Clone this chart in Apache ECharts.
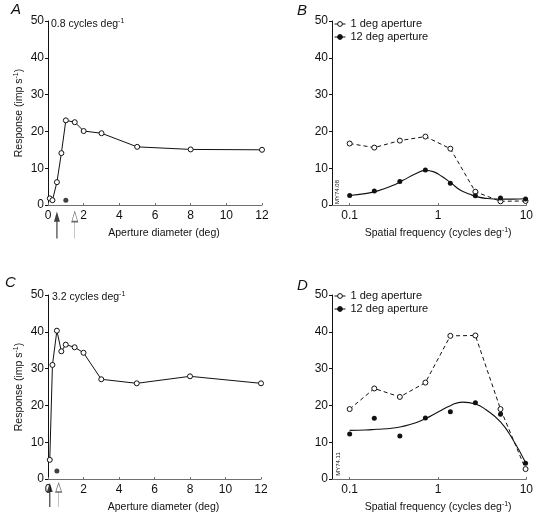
<!DOCTYPE html>
<html><head><meta charset="utf-8">
<script src="https://cdn.jsdelivr.net/npm/echarts@6/dist/echarts.min.js"></script>
<style>html,body{margin:0;padding:0;background:#fff}#c{width:536px;height:518px}</style>
</head><body><div id="c"></div>
<script>
// ---------- data ----------
// Panel A : 0.8 cycles/deg, response vs aperture diameter
const apertureA = [0.1, 0.25, 0.5, 0.75, 1, 1.5, 2, 3, 5, 8, 12];
const responseA = [1.8, 1.3, 6.2, 14.1, 23.0, 22.5, 20.1, 19.5, 15.8, 15.1, 15.0];
const spontA = [[1, 1.3]];
const arrowFilledA = [0.5];
const arrowOpenA = [1.5];
// Panel C : 3.2 cycles/deg
const apertureC = [0.1, 0.25, 0.5, 0.75, 1, 1.5, 2, 3, 5, 8, 12];
const responseC = [5.2, 31.0, 40.3, 34.7, 36.5, 35.8, 34.3, 27.1, 26.0, 27.9, 26.0];
const spontC = [[0.5, 2.2]];
const arrowFilledC = [0.1];
const arrowOpenC = [0.6];
// Panel B : spatial frequency tuning (cell MY74.08)
const freqB = [0.1, 0.19, 0.37, 0.72, 1.38, 2.65, 5.1, 9.8];
const smallApB = [16.7, 15.6, 17.5, 18.6, 15.3, 3.6, 1.0, 1.1];
const largeApB = [2.6, 3.8, 6.4, 9.5, 5.9, 2.5, 1.9, 1.6];
const fitFreqB = [0.1, 0.15, 0.2, 0.3, 0.4, 0.55, 0.72, 0.9, 1.1, 1.4, 1.8, 2.3, 2.8, 3.5, 5, 7, 9.8];
const fitRespB = [2.6, 3.1, 3.7, 5.2, 6.7, 8.4, 9.4, 9.0, 7.8, 6.0, 4.0, 2.9, 2.2, 1.8, 1.6, 1.6, 1.7];
// Panel D : spatial frequency tuning (cell MY74.11)
const freqD = [0.1, 0.19, 0.37, 0.72, 1.38, 2.65, 5.1, 9.8];
const smallApD = [19.0, 24.6, 22.3, 26.2, 38.9, 39.0, 19.0, 2.7];
const largeApD = [12.2, 16.5, 11.7, 16.6, 18.3, 20.7, 17.6, 4.3];
const fitFreqD = [0.1, 0.15, 0.2, 0.3, 0.4, 0.55, 0.72, 1.0, 1.4, 1.9, 2.65, 3.5, 5.1, 7, 9.8];
const fitRespD = [13.2, 13.3, 13.5, 13.8, 14.3, 15.2, 16.4, 18.2, 20.0, 20.9, 20.4, 18.8, 15.5, 10.8, 4.5];
// axis ticks
const diamTicks = [0, 2, 4, 6, 8, 10, 12];
const freqTicks = [0.1, 1, 10];
const freqTickLabels = ['0.1', '1', '10'];
const respTicks = [0, 10, 20, 30, 40, 50];
const seriesNames = ['1 deg aperture', '12 deg aperture'];

// ---------- styling ----------
const FONT = '"Liberation Sans", Arial, Helvetica, sans-serif';
const INK = '#111111';
const AXGRAY = '#6f6f6f';
const ARROW_FILLED = 'path://M4 0 L0 9 L3.2 9 L3.2 24 L4.8 24 L4.8 9 L8 9 Z';
const ARROW_OPEN = 'path://M4 0 L0 9 L8 9 Z M4 9 L4 24';
const supRich = { sup: { fontSize: 7, verticalAlign: 'top', fontFamily: FONT, color: INK, lineHeight: 13 } };

const pairs = (xs, ys) => xs.map((x, i) => [x, ys[i]]);
const logPairs = (xs, ys) => xs.map((x, i) => [Math.log10(x), ys[i]]);

const grids = [
  { left: 48, top: 21, width: 214, height: 184 },
  { left: 332, top: 21, width: 196, height: 184 },
  { left: 48, top: 295, width: 213, height: 184 },
  { left: 332, top: 295, width: 196, height: 184 }
];

function yAxis(gi, withName) {
  return {
    type: 'value', gridIndex: gi, min: respTicks[0], max: respTicks[respTicks.length - 1], interval: 10,
    axisLine: { show: true, onZero: false, lineStyle: { color: INK, width: 1 } },
    axisTick: { show: true, length: 3, lineStyle: { color: INK } },
    axisLabel: { color: INK, fontSize: 12, fontFamily: FONT, margin: 4 },
    splitLine: { show: false },
    name: withName ? 'Response (imp s{sup|-1})' : '',
    nameLocation: 'middle', nameRotate: 90, nameGap: 22,
    nameTextStyle: { color: INK, fontSize: 10.5, fontFamily: FONT, lineHeight: 13, rich: supRich }
  };
}
function xDiam(gi) {
  return {
    type: 'value', gridIndex: gi, min: diamTicks[0], max: diamTicks[diamTicks.length - 1], interval: 2,
    axisLine: { show: true, onZero: false, lineStyle: { color: AXGRAY, width: 1 } },
    axisTick: { show: true, inside: true, length: 2, lineStyle: { color: AXGRAY } },
    axisLabel: { color: INK, fontSize: 12, fontFamily: FONT, margin: 5 },
    splitLine: { show: false },
    name: 'Aperture diameter (deg)', nameLocation: 'middle', nameGap: 22,
    nameTextStyle: { color: INK, fontSize: 10.5, fontFamily: FONT, lineHeight: 13, padding: [0, 0, 0, 18] }
  };
}
function xFreq(gi) {
  const tv = freqTicks.map(v => Math.log10(v));
  return {
    type: 'value', gridIndex: gi, min: -1.2, max: 1,
    axisLine: { show: true, onZero: false, lineStyle: { color: AXGRAY, width: 1 } },
    axisTick: { show: true, inside: true, length: 2, customValues: tv, lineStyle: { color: AXGRAY } },
    axisLabel: {
      color: INK, fontSize: 12, fontFamily: FONT, margin: 5, customValues: tv,
      formatter: v => { const i = tv.findIndex(t => Math.abs(t - v) < 1e-6); return i >= 0 ? freqTickLabels[i] : ''; }
    },
    splitLine: { show: false },
    name: 'Spatial frequency (cycles deg{sup|-1})', nameLocation: 'middle', nameGap: 22,
    nameTextStyle: { color: INK, fontSize: 10.5, fontFamily: FONT, lineHeight: 13, rich: supRich, padding: [0, 0, 0, 18] }
  };
}

function openLine(gi, data, dashed, name) {
  return {
    type: 'line', name: name, xAxisIndex: gi, yAxisIndex: gi, data: data,
    symbol: 'circle', symbolSize: 5, showAllSymbol: true,
    itemStyle: { color: '#fff', borderColor: INK, borderWidth: 1 },
    lineStyle: { color: INK, width: 1, type: dashed ? [4, 3] : 'solid' },
    emphasis: { disabled: true }, z: 4
  };
}
function filledPts(gi, data, name) {
  return {
    type: 'line', name: name, xAxisIndex: gi, yAxisIndex: gi, data: data,
    symbol: 'circle', symbolSize: 5, showAllSymbol: true,
    itemStyle: { color: INK, borderColor: INK, borderWidth: 0 },
    lineStyle: { color: INK, width: 1, opacity: 0 },
    emphasis: { disabled: true }, z: 5
  };
}
function fitLine(gi, data) {
  return {
    type: 'line', name: 'fit' + gi, xAxisIndex: gi, yAxisIndex: gi, data: data,
    smooth: 0.5, symbol: 'none', lineStyle: { color: INK, width: 1.1 },
    emphasis: { disabled: true }, z: 3
  };
}
function arrows(gi, xs, filled, len, off) {
  return {
    type: 'scatter', xAxisIndex: gi, yAxisIndex: gi, data: xs.map(x => [x, 0]),
    symbol: filled ? ARROW_FILLED : ARROW_OPEN, symbolSize: [6, len], symbolOffset: [0, off],
    itemStyle: filled ? { color: INK } : { color: '#fff', borderColor: '#444', borderWidth: 0.8 },
    clip: false, silent: true, z: 6
  };
}
function dots(gi, data) {
  return {
    type: 'scatter', xAxisIndex: gi, yAxisIndex: gi, data: data, symbol: 'circle', symbolSize: 5,
    itemStyle: { color: INK }, silent: true, z: 5
  };
}
function legendAt(top) {
  return {
    data: seriesNames, orient: 'vertical', left: 334, top: top, padding: 0,
    itemWidth: 11, itemHeight: 6, itemGap: 1, selectedMode: false,
    textStyle: { color: INK, fontSize: 11, fontFamily: FONT, lineHeight: 12 },
    itemStyle: { borderWidth: 1 },
    lineStyle: { type: 'solid', width: 1, opacity: 1 }
  };
}
function txt(text, x, y, size, opts) {
  return {
    type: 'text', x: x, y: y, silent: true,
    style: Object.assign({
      text: text, fill: INK, fontSize: size, fontFamily: FONT,
      textAlign: 'left', textVerticalAlign: 'middle', align: 'left', verticalAlign: 'middle', rich: supRich
    }, opts || {})
  };
}

const option = {
  backgroundColor: '#fff',
  animation: false,
  grid: grids,
  xAxis: [xDiam(0), xFreq(1), xDiam(2), xFreq(3)],
  yAxis: [yAxis(0, true), yAxis(1, false), yAxis(2, true), yAxis(3, false)],
  legend: [legendAt(18), legendAt(290)],
  series: [
    openLine(0, pairs(apertureA, responseA), false, 'A'),
    dots(0, spontA),
    arrows(0, arrowFilledA, true, 27, 20),
    arrows(0, arrowOpenA, false, 27, 20),
    openLine(1, logPairs(freqB, smallApB), true, seriesNames[0]),
    filledPts(1, logPairs(freqB, largeApB), seriesNames[1]),
    fitLine(1, logPairs(fitFreqB, fitRespB)),
    openLine(2, pairs(apertureC, responseC), false, 'C'),
    dots(2, spontC),
    arrows(2, arrowFilledC, true, 24, 16),
    arrows(2, arrowOpenC, false, 24, 16),
    openLine(3, logPairs(freqD, smallApD), true, seriesNames[0]),
    filledPts(3, logPairs(freqD, largeApD), seriesNames[1]),
    fitLine(3, logPairs(fitFreqD, fitRespD))
  ],
  graphic: [
    txt('A', 11, 10, 15, { fontStyle: 'italic' }),
    txt('B', 297, 11, 15, { fontStyle: 'italic' }),
    txt('C', 5, 283, 15, { fontStyle: 'italic' }),
    txt('D', 297, 286, 15, { fontStyle: 'italic' }),
    txt('0.8 cycles deg{sup|-1}', 51, 24, 10.5),
    txt('3.2 cycles deg{sup|-1}', 52, 297, 10.5),
    Object.assign(txt('MY74.08', 337, 192, 6, { textAlign: 'center', align: 'center' }), { rotation: Math.PI / 2 }),
    Object.assign(txt('MY74.11', 338, 464, 6, { textAlign: 'center', align: 'center' }), { rotation: Math.PI / 2 })
  ]
};
const chart = echarts.init(document.getElementById('c'), null, { renderer: 'canvas' });
chart.setOption(option);
</script>
</body></html>
